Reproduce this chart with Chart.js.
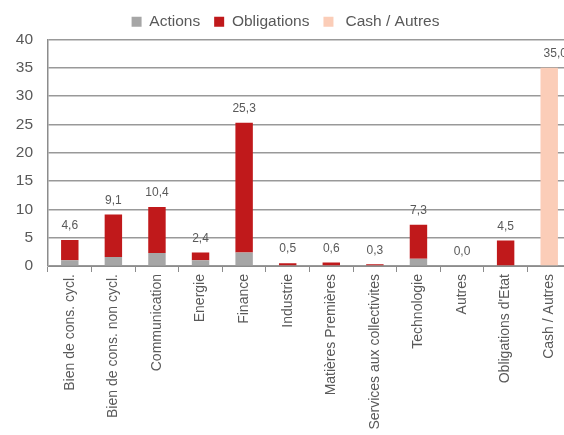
<!DOCTYPE html>
<html>
<head>
<meta charset="utf-8">
<script src="https://cdn.jsdelivr.net/npm/chart.js@4.4.1/dist/chart.umd.min.js"></script>
<style>
    html, body { margin: 0; padding: 0; background: #fff; overflow: hidden; }
    #graphSecteurs { display: block; }
</style>
</head>
<body>
<canvas id="graphSecteurs" width="571" height="435"></canvas>
<script>
//Datos
const secteurs = ['Bien de cons. cycl.', 'Bien de cons. non cycl.', 'Communication', 'Energie', 'Finance', 'Industrie',
    'Matières Premières', 'Services aux collectivites', 'Technologie', 'Autres', "Obligations d'Etat", 'Cash / Autres'];
const actions = [1.0, 1.6, 2.3, 1.0, 2.4, 0, 0, 0, 1.3, 0, 0, null];
const obligations = [3.6, 7.5, 8.1, 1.4, 22.9, 0.5, 0.6, 0.3, 6.0, 0, 4.5, null];
const cash = [null, null, null, null, null, null, null, null, null, null, null, 35.0];
const totaux = [4.6, 9.1, 10.4, 2.4, 25.3, 0.5, 0.6, 0.3, 7.3, 0.0, 4.5, 35.0];
const ticksY = [0, 5, 10, 15, 20, 25, 30, 35, 40];

const gris = '#595959';
const police = '"Liberation Sans", Arial, sans-serif';

//Etiquetas de totales encima de cada barra
const pluginTotaux = {
    id: 'totaux',
    afterDatasetsDraw(chart) {
        const { ctx, scales } = chart;
        ctx.save();
        ctx.font = '12px ' + police;
        ctx.fillStyle = gris;
        ctx.textAlign = 'center';
        ctx.textBaseline = 'middle';
        totaux.forEach((val, i) => {
            let x = scales.x.getPixelForValue(i);
            const y = scales.y.getPixelForValue(val) - 14;
            if (i === totaux.length - 1) x += 6;
            ctx.fillText(val.toFixed(1).replace('.', ','), x, y);
        });
        ctx.restore();
    }
};

let grafico = document.querySelector('#graphSecteurs');

const config = {
    type: 'bar',
    data: {
        labels: secteurs,
        datasets: [
            { label: 'Actions', data: actions, backgroundColor: '#a6a6a6', stack: 's' },
            { label: 'Obligations', data: obligations, backgroundColor: '#c0191b', stack: 's' },
            { label: ' Cash / Autres', data: cash, backgroundColor: '#fbcdb8', stack: 's' }
        ]
    },
    options: {
        responsive: false,
        animation: false,
        layout: { padding: 0 },
        datasets: {
            bar: { categoryPercentage: 1, barPercentage: 0.4 }
        },
        plugins: {
            legend: {
                position: 'top',
                labels: {
                    color: gris,
                    boxWidth: 10,
                    boxHeight: 10,
                    padding: 14,
                    font: { family: police, size: 15.5 }
                }
            },
            tooltip: { enabled: false }
        },
        scales: {
            x: {
                stacked: true,
                afterFit(scale) { scale.height = 169; },
                grid: {
                    offset: true,
                    drawOnChartArea: false,
                    drawTicks: true,
                    tickLength: 6,
                    color: '#8c8c8c'
                },
                border: { color: '#8c8c8c', width: 1 },
                ticks: {
                    color: gris,
                    maxRotation: 90,
                    minRotation: 90,
                    autoSkip: false,
                    padding: 2,
                    font: { family: police, size: 14 }
                }
            },
            y: {
                stacked: true,
                min: 0,
                max: 40,
                afterFit(scale) { scale.width = 48; },
                afterBuildTicks(scale) { scale.ticks = ticksY.map(v => ({ value: v })); },
                grid: {
                    color: '#999999',
                    lineWidth: 1.5,
                    drawTicks: false
                },
                border: { color: '#8c8c8c', width: 1.5 },
                ticks: {
                    color: gris,
                    padding: 15,
                    font: { family: police, size: 15.5 }
                }
            }
        }
    },
    plugins: [pluginTotaux]
};

new Chart(grafico, config);//Crea grafico
</script>
</body>
</html>
